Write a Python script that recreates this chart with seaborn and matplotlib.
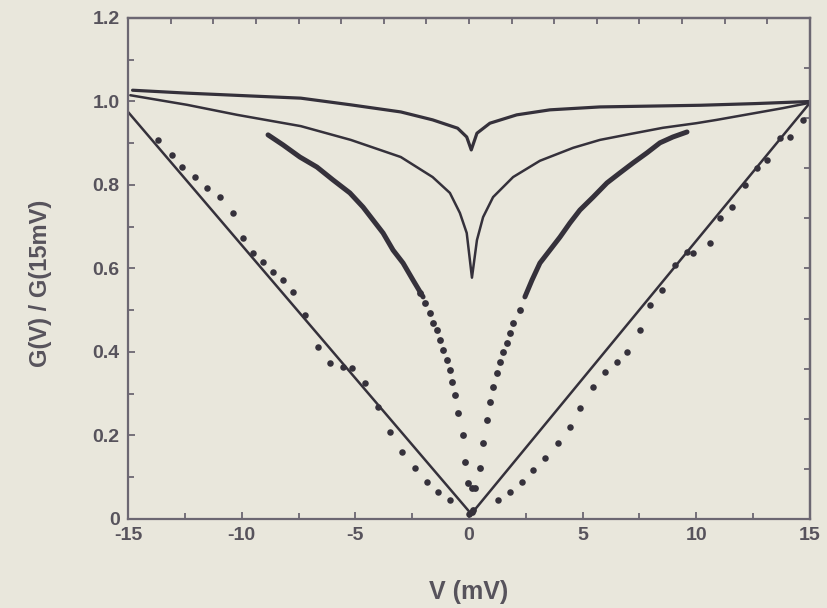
import numpy as np
import pandas as pd
import matplotlib
matplotlib.use("Agg")
import matplotlib.pyplot as plt
import seaborn as sns

# ---- data -------------------------------------------------------------
# upper theory curve (shallow cusp)
top_v = [-14.8, -12.4, -9.5, -7.4, -5.2, -3.0, -1.6, -0.5, -0.1, 0.1,
         0.35, 0.92, 2.1, 3.56, 5.76, 8.0, 10.2, 12.6, 15.0]
top_g = [1.027, 1.020, 1.013, 1.008, 0.992, 0.975, 0.956, 0.936, 0.915, 0.884,
         0.924, 0.948, 0.968, 0.980, 0.987, 0.989, 0.991, 0.995, 1.000]

# middle theory curve (deep cusp)
mid_v = [-14.9, -12.4, -10.2, -7.4, -5.2, -3.0, -1.6, -0.84, -0.4, -0.1, 0.13,
         0.35, 0.62, 1.06, 1.94, 3.12, 4.58, 5.76, 7.08, 8.53, 10.0, 10.9, 13.8, 15.0]
mid_g = [1.015, 0.992, 0.968, 0.941, 0.908, 0.867, 0.819, 0.781, 0.733, 0.685, 0.578,
         0.668, 0.723, 0.771, 0.819, 0.858, 0.889, 0.908, 0.922, 0.937, 0.948, 0.956, 0.984, 0.997]

# linear reference G = |V| / 15
lin_v = [-15.0, 0.1, 15.0]
lin_g = [0.975, 0.012, 0.997]

# measured conductance, densely sampled parts (left and right wings)
meas_left_v = [-8.84, -8.18, -7.44, -6.69, -5.98, -5.24, -4.66, -4.22, -3.78,
               -3.34, -2.90, -2.46, -2.02]
meas_left_g = [0.920, 0.896, 0.867, 0.843, 0.812, 0.781, 0.747, 0.716, 0.685,
               0.644, 0.613, 0.572, 0.532]
meas_right_v = [2.46, 2.77, 3.12, 3.56, 4.00, 4.44, 4.88, 5.46, 6.07, 6.64,
                7.22, 7.83, 8.40, 8.97, 9.59]
meas_right_g = [0.532, 0.572, 0.613, 0.644, 0.675, 0.709, 0.740, 0.771, 0.805, 0.829,
                0.853, 0.877, 0.901, 0.915, 0.927]

# measured conductance, sparse points near zero bias
meas_dot_v = [-2.16, -1.94, -1.72, -1.58, -1.41, -1.28, -1.14, -0.97, -0.84, -0.75,
              -0.62, -0.48, -0.26, -0.18, -0.04, 0.13, 0.13,
              0.18, 0.26, 0.48, 0.62, 0.79, 0.92, 1.06, 1.23, 1.36, 1.50, 1.67,
              1.80, 1.94, 2.24]
meas_dot_g = [0.541, 0.517, 0.493, 0.469, 0.453, 0.429, 0.405, 0.381, 0.357, 0.328,
              0.297, 0.254, 0.201, 0.137, 0.086, 0.074, 0.017,
              0.022, 0.074, 0.122, 0.182, 0.237, 0.280, 0.316, 0.350, 0.376, 0.400, 0.422,
              0.446, 0.469, 0.501]

# second measured data set following the linear reference
lin_pts_v = [-13.68, -13.07, -12.63, -12.05, -11.53, -10.95, -10.38, -9.94, -9.50,
             -9.06, -8.62, -8.18, -7.74, -7.22, -6.64, -6.12, -5.54, -5.15, -4.58,
             -4.00, -3.48, -2.95, -2.38, -1.85, -1.36, -0.84, 0.0,
             1.28, 1.80, 2.33, 2.82, 3.34, 3.92, 4.44, 4.88, 5.46, 5.98, 6.51,
             6.95, 7.52, 7.96, 8.49, 9.06, 9.59, 9.85, 10.60, 11.04, 11.57,
             12.14, 12.67, 13.11, 13.68, 14.12, 14.69]
lin_pts_g = [0.908, 0.872, 0.843, 0.819, 0.793, 0.771, 0.733, 0.673, 0.637,
             0.616, 0.592, 0.572, 0.544, 0.489, 0.412, 0.374, 0.364, 0.362, 0.326,
             0.268, 0.208, 0.160, 0.122, 0.089, 0.065, 0.046, 0.012,
             0.046, 0.065, 0.089, 0.117, 0.146, 0.182, 0.220, 0.266, 0.316, 0.352, 0.376,
             0.400, 0.453, 0.513, 0.548, 0.608, 0.640, 0.637, 0.661, 0.721, 0.747,
             0.800, 0.841, 0.860, 0.913, 0.915, 0.956]

x_ticks = [-15, -10, -5, 0, 5, 10, 15]
y_ticks = [0, 0.2, 0.4, 0.6, 0.8, 1.0, 1.2]
y_tick_labels = ["0", "0.2", "0.4", "0.6", "0.8", "1.0", "1.2"]

# ---- style ------------------------------------------------------------
paper = "#e9e7dc"
ink = "#35313b"
frame = "#6c6772"
text_c = "#57535c"

sns.set_theme(style="ticks")
plt.rcParams["font.family"] = ["Liberation Sans", "DejaVu Sans"]

fig = plt.figure(figsize=(8.27, 6.08), dpi=100, facecolor=paper)
ax = fig.add_axes([0.1548, 0.1464, 0.8246, 0.824])
ax.set_facecolor(paper)

def curve(v, g, **kw):
    df = pd.DataFrame({"V": v, "G": g})
    sns.lineplot(data=df, x="V", y="G", sort=False, estimator=None, ax=ax,
                 color=ink, legend=False, solid_joinstyle="round",
                 solid_capstyle="round", **kw)

curve(top_v, top_g, linewidth=2.3)
curve(mid_v, mid_g, linewidth=1.8)
curve(lin_v, lin_g, linewidth=1.8)
curve(meas_left_v, meas_left_g, linewidth=3.6)
curve(meas_right_v, meas_right_g, linewidth=3.6)

sns.scatterplot(x=meas_dot_v, y=meas_dot_g, ax=ax, color=ink, s=24,
                linewidth=0, legend=False)
sns.scatterplot(x=lin_pts_v, y=lin_pts_g, ax=ax, color=ink, s=22,
                linewidth=0, legend=False)

ax.set_xlim(-15, 15)
ax.set_ylim(0, 1.2)
ax.set_xticks(x_ticks)
ax.set_xticklabels([str(t) for t in x_ticks])
ax.set_xticks(np.arange(-15, 15.01, 2.5), minor=True)
ax.set_yticks(y_ticks)
ax.set_yticklabels(y_tick_labels)
ax.set_yticks(np.arange(0, 1.201, 0.1), minor=True)

ax.tick_params(which="both", direction="in", color=frame, width=1.3)
ax.tick_params(which="major", length=5, labelsize=14, labelcolor=text_c, pad=6)
ax.tick_params(which="minor", length=4)
for lab in ax.get_xticklabels() + ax.get_yticklabels():
    lab.set_fontweight("bold")

for sp in ax.spines.values():
    sp.set_color(frame)
    sp.set_linewidth(1.6)

# top and right frame carry their own tick spacing
top = ax.secondary_xaxis("top")
top.set_xticks(np.arange(-15, 15.01, 1.875))
top.tick_params(direction="in", length=4, width=1.3, color=frame, labeltop=False)
top.spines["top"].set_color(frame)
top.spines["top"].set_linewidth(1.6)
right = ax.secondary_yaxis("right")
right.set_yticks(np.arange(0, 1.201, 0.12))
right.tick_params(direction="in", length=4, width=1.3, color=frame, labelright=False)
right.spines["right"].set_color(frame)
right.spines["right"].set_linewidth(1.6)

ax.set_xlabel("V (mV)", fontsize=18, fontweight="bold", color=text_c)
ax.set_ylabel("G(V) / G(15mV)", fontsize=17, fontweight="bold", color=text_c)
ax.xaxis.set_label_coords(0.5, -0.122)
ax.yaxis.set_label_coords(-0.112, 0.471)

fig.savefig("out.png", dpi=100, facecolor=paper)
